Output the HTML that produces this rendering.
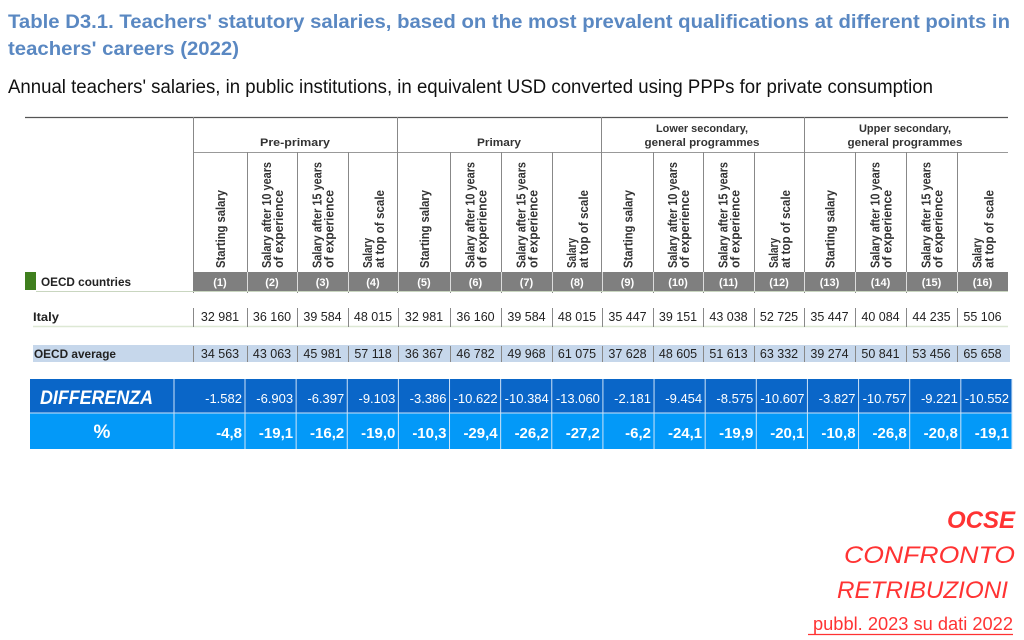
<!DOCTYPE html>
<html><head><meta charset="utf-8"><style>
html,body{margin:0;padding:0;background:#fff;width:1024px;height:640px;overflow:hidden}
svg{display:block}
text{font-family:"Liberation Sans",Arial,sans-serif}
</style></head><body>
<svg width="1024" height="640" viewBox="0 0 1024 640" xmlns="http://www.w3.org/2000/svg">
<text x="8" y="28" font-size="19" font-weight="bold" fill="#5a88c2" textLength="1002" lengthAdjust="spacingAndGlyphs">Table D3.1. Teachers' statutory salaries, based on the most prevalent qualifications at different points in</text>
<text x="8" y="55" font-size="19" font-weight="bold" fill="#5a88c2" textLength="231" lengthAdjust="spacingAndGlyphs">teachers' careers (2022)</text>
<text x="8" y="93" font-size="19" fill="#111" textLength="925" lengthAdjust="spacingAndGlyphs">Annual teachers' salaries, in public institutions, in equivalent USD converted using PPPs for private consumption</text>

<line x1="25" y1="117.5" x2="1008" y2="117.5" stroke="#555" stroke-width="1.2"/>
<line x1="193" y1="152.5" x2="1008" y2="152.5" stroke="#999" stroke-width="1"/>
<g stroke="#888" stroke-width="1">
<line x1="193.5" y1="117" x2="193.5" y2="293"/>
<line x1="397.5" y1="117" x2="397.5" y2="293"/>
<line x1="601.5" y1="117" x2="601.5" y2="293"/>
<line x1="804.5" y1="117" x2="804.5" y2="293"/>
<line x1="247.5" y1="152" x2="247.5" y2="293"/>
<line x1="297.5" y1="152" x2="297.5" y2="293"/>
<line x1="348.5" y1="152" x2="348.5" y2="293"/>
<line x1="450.5" y1="152" x2="450.5" y2="293"/>
<line x1="501.5" y1="152" x2="501.5" y2="293"/>
<line x1="552.5" y1="152" x2="552.5" y2="293"/>
<line x1="653.5" y1="152" x2="653.5" y2="293"/>
<line x1="703.5" y1="152" x2="703.5" y2="293"/>
<line x1="754.5" y1="152" x2="754.5" y2="293"/>
<line x1="855.5" y1="152" x2="855.5" y2="293"/>
<line x1="906.5" y1="152" x2="906.5" y2="293"/>
<line x1="957.5" y1="152" x2="957.5" y2="293"/>
</g>
<g font-size="11" font-weight="bold" fill="#333" text-anchor="middle">
<text x="295" y="146" textLength="70" lengthAdjust="spacingAndGlyphs">Pre-primary</text>
<text x="499" y="146" textLength="44" lengthAdjust="spacingAndGlyphs">Primary</text>
<text x="702" y="132" textLength="92" lengthAdjust="spacingAndGlyphs">Lower secondary,</text>
<text x="702" y="146" textLength="115" lengthAdjust="spacingAndGlyphs">general programmes</text>
<text x="905" y="132" textLength="92" lengthAdjust="spacingAndGlyphs">Upper secondary,</text>
<text x="905" y="146" textLength="115" lengthAdjust="spacingAndGlyphs">general programmes</text>
</g>

<rect x="193" y="272" width="815" height="19" fill="#7f7f7f"/>
<rect x="25" y="272" width="11" height="18" fill="#3f7f1e"/>
<line x1="36" y1="291.5" x2="1008" y2="291.5" stroke="#c9d6c0" stroke-width="1"/>
<text x="41" y="286" font-size="12" font-weight="bold" fill="#222" textLength="90" lengthAdjust="spacingAndGlyphs">OECD countries</text>
<g id="rot" font-size="12.5" font-weight="bold" fill="#333"></g>
<g id="nums" font-size="11" font-weight="bold" fill="#fff" text-anchor="middle"></g>

<text x="33" y="321" font-size="12" font-weight="bold" fill="#222" textLength="26" lengthAdjust="spacingAndGlyphs">Italy</text>
<line x1="33" y1="326.5" x2="1008" y2="326.5" stroke="#dde8d4" stroke-width="1.5"/>
<rect x="33" y="345" width="977" height="17" fill="#c6d7eb"/>
<text x="34" y="358" font-size="12" font-weight="bold" fill="#222" textLength="82" lengthAdjust="spacingAndGlyphs">OECD average</text>
<g id="data" font-size="12.5" fill="#222" text-anchor="middle"></g>

<rect x="30" y="379" width="982" height="34" fill="#0a66c8"/>
<rect x="30" y="413" width="982" height="36" fill="#0399f8"/>
<g id="bl" stroke="#cfe3f7" stroke-width="1"></g>
<text x="40" y="404" font-size="19" font-weight="bold" font-style="italic" fill="#fff" textLength="113" lengthAdjust="spacingAndGlyphs">DIFFERENZA</text>
<text x="102" y="438" font-size="19" font-weight="bold" fill="#fff" text-anchor="middle">%</text>
<g id="diff" font-size="13" fill="#fff" text-anchor="end"></g>
<g id="pct" font-size="15" font-weight="bold" fill="#fff" text-anchor="end"></g>

<g fill="#ff3333" text-anchor="end" font-style="italic">
<text x="1015" y="528" font-size="24" font-weight="bold">OCSE</text>
<text x="1015" y="563" font-size="24" textLength="171" lengthAdjust="spacingAndGlyphs">CONFRONTO</text>
<text x="1008" y="598" font-size="24" textLength="171" lengthAdjust="spacingAndGlyphs">RETRIBUZIONI</text>
</g>
<text x="1013" y="630" font-size="18" fill="#ff3333" text-anchor="end" textLength="200" lengthAdjust="spacingAndGlyphs">pubbl. 2023 su dati 2022</text>
<line x1="808" y1="634.5" x2="1013" y2="634.5" stroke="#ff3333" stroke-width="1.2"/>
</svg>
<script>
var NS="http://www.w3.org/2000/svg";
function el(p,t,a,txt){var e=document.createElementNS(NS,t);for(var k in a)e.setAttribute(k,a[k]);if(txt!=null)e.textContent=txt;document.getElementById(p).appendChild(e);return e;}
var b=[193,247,297,348,398,450,501,552,602,653,703,754,804,855,906,957,1008];
var labels=[["Starting salary"],["Salary after 10 years","of experience"],["Salary after 15 years","of experience"],["Salary","at top of scale"]];
var it=["32 981","36 160","39 584","48 015","32 981","36 160","39 584","48 015","35 447","39 151","43 038","52 725","35 447","40 084","44 235","55 106"];
var oe=["34 563","43 063","45 981","57 118","36 367","46 782","49 968","61 075","37 628","48 605","51 613","63 332","39 274","50 841","53 456","65 658"];
var df=["-1.582","-6.903","-6.397","-9.103","-3.386","-10.622","-10.384","-13.060","-2.181","-9.454","-8.575","-10.607","-3.827","-10.757","-9.221","-10.552"];
var pc=["-4,8","-19,1","-16,2","-19,0","-10,3","-29,4","-26,2","-27,2","-6,2","-24,1","-19,9","-20,1","-10,8","-26,8","-20,8","-19,1"];
for(var i=0;i<16;i++){
 var c=(b[i]+b[i+1])/2, L=labels[i%4];
 if(L.length==1){el("rot","text",{transform:"translate("+(c+5)+",268) rotate(-90)",textLength:78,lengthAdjust:"spacingAndGlyphs"},L[0]);}
 else{
  var l1=L[0]=="Salary"?30:106;
  el("rot","text",{transform:"translate("+(c-1)+",268) rotate(-90)",textLength:l1,lengthAdjust:"spacingAndGlyphs"},L[0]);
  el("rot","text",{transform:"translate("+(c+11)+",268) rotate(-90)",textLength:78,lengthAdjust:"spacingAndGlyphs"},L[1]);
 }
 el("nums","text",{x:c,y:286},"("+(i+1)+")");
 if(i>0) el("rot","line",{x1:b[i]+0.5,y1:272,x2:b[i]+0.5,y2:291,stroke:"#ddd","stroke-width":1});
 el("data","line",{x1:b[i]+0.5,y1:308,x2:b[i]+0.5,y2:327,stroke:"#888","stroke-width":1});
 el("data","line",{x1:b[i]+0.5,y1:346,x2:b[i]+0.5,y2:362,stroke:"#888","stroke-width":1});
 el("data","text",{x:c,y:321},it[i]);
 el("data","text",{x:c,y:358},oe[i]);
 var rr=(i==0)?242:245+51.13*i-3;
 el("diff","text",{x:rr,y:403},df[i]);
 el("pct","text",{x:rr,y:438},pc[i]);
}
var bx=[174];for(var j=0;j<16;j++)bx.push(245+51.13*j);
bx.forEach(function(x){el("bl","line",{x1:x,y1:379,x2:x,y2:449});});
el("bl","line",{x1:30,y1:413,x2:1012,y2:413});
</script>
</body></html>
